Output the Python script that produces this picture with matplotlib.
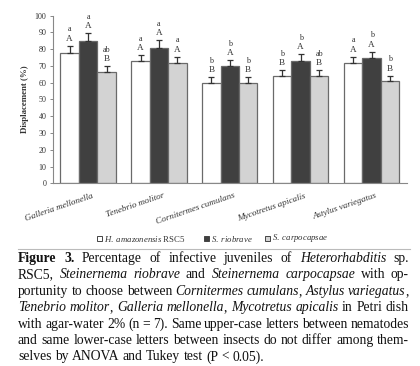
import matplotlib
matplotlib.use("Agg")
import matplotlib.pyplot as plt
import numpy as np
from matplotlib.patches import Rectangle
from matplotlib.lines import Line2D

plt.rcParams['font.family'] = ['Liberation Serif', 'DejaVu Serif']
plt.rcParams['mathtext.fontset'] = 'custom'
plt.rcParams['mathtext.it'] = 'Liberation Serif:italic'
plt.rcParams['mathtext.rm'] = 'Liberation Serif'

insects = ["Galleria mellonella", "Tenebrio molitor", "Cornitermes cumulans",
           "Mycotretus apicalis", "Astylus variegatus"]
series_names = [r"$\it{H.\ amazonensis}$ RSC5", r"$\it{S.\ riobrave}$", r"$\it{S.\ carpocapsae}$"]
h_amaz = [78, 73, 60, 63.8, 72]
s_rio = [85.2, 81, 70, 73, 74.6]
s_carp = [66.4, 72, 60, 63.8, 60.9]
h_err = [4, 3.5, 3.2, 3.6, 3.5]
r_err = [4.5, 4.3, 3.4, 4, 3.9]
c_err = [3.6, 3.5, 3.2, 3.6, 3.2]
h_upper = ["A", "A", "B", "B", "A"]
h_lower = ["a", "a", "b", "b", "a"]
r_upper = ["A", "A", "A", "A", "A"]
r_lower = ["a", "a", "b", "b", "b"]
c_upper = ["B", "A", "B", "B", "B"]
c_lower = ["ab", "a", "b", "ab", "b"]
yticks = list(range(0, 101, 10))

W, H = 420, 366
fig = plt.figure(figsize=(W / 100, H / 100), dpi=100)
ax = fig.add_axes([52.7 / W, 1 - 183.3 / H, (407 - 52.7) / W, (183.3 - 15.7) / H])

x = np.arange(len(insects))
bw = 0.26
faces = ["#ffffff", "#404040", "#d3d3d3"]
vals = [h_amaz, s_rio, s_carp]
errs = [h_err, r_err, c_err]
uppers = [h_upper, r_upper, c_upper]
lowers = [h_lower, r_lower, c_lower]
for i in range(3):
    xs = x + (i - 1) * bw
    ax.bar(xs, vals[i], bw, color=faces[i], edgecolor="#6a6a6a", linewidth=0.9,
           yerr=[np.zeros(len(x)), errs[i]], error_kw=dict(ecolor="#333333", elinewidth=0.9,
                                                           capsize=2.4, capthick=0.9), zorder=2)
    for j in range(len(x)):
        top = vals[i][j] + errs[i][j]
        ax.text(xs[j], top + 3, uppers[i][j], ha="center", va="baseline", fontsize=6.6, color="#333333")
        ax.text(xs[j], top + 8.6, lowers[i][j], ha="center", va="baseline", fontsize=5.9, color="#333333")

ax.set_xlim(-0.5, len(x) - 0.5)
ax.set_ylim(0, 100)
ax.set_yticks(yticks)
ax.set_yticklabels([str(t) for t in yticks], fontsize=5.8, color="#333333")
ax.tick_params(axis="y", length=2.5, width=0.7, color="#888888", pad=2)
ax.set_xticks(x + 0.05)
ax.set_xticklabels(insects, rotation=19, ha="right", rotation_mode="anchor",
                   fontsize=6.6, style="italic", color="#333333")
ax.tick_params(axis="x", length=0, pad=6)
for s in ["top", "right"]:
    ax.spines[s].set_visible(False)
for s in ["left", "bottom"]:
    ax.spines[s].set_color("#888888")
    ax.spines[s].set_linewidth(0.8)
ax.set_ylabel("Displacement (%)", fontsize=6.4, fontweight="bold", color="#333333", labelpad=4)

# Legend (manual placement)
leg_sq_x = [97, 204, 265]
leg_y = 238.5
sq = 4.5
for i in range(3):
    fig.add_artist(Rectangle((leg_sq_x[i] / W, 1 - (leg_y + sq / 2) / H), sq / W, sq / H,
                             transform=fig.transFigure, facecolor=faces[i],
                             edgecolor="#444444", linewidth=0.7))
    fig.text((leg_sq_x[i] + sq + 2.2) / W, 1 - leg_y / H, series_names[i], fontsize=6.3,
             va="center", ha="left", color="#333333")

fig.add_artist(Line2D([18 / W, 410 / W], [1 - 249 / H, 1 - 249 / H], color="#bbbbbb", linewidth=0.8))

# Caption (justified)
caption = [
    "#Figure# #3.# Percentage of infective juveniles of *Heterorhabditis* sp.",
    "RSC5, *Steinernema* *riobrave* and *Steinernema* *carpocapsae* with op-",
    "portunity to choose between *Cornitermes* *cumulans*, *Astylus* *variegatus*,",
    "*Tenebrio* *molitor*, *Galleria* *mellonella*, *Mycotretus* *apicalis* in Petri dish",
    "with agar-water 2% (n = 7). Same upper-case letters between nematodes",
    "and same lower-case letters between insects do not differ among them-",
    "selves by ANOVA and Tukey test (P < 0.05).",
]
cap_fs = 9.8
x0, x1 = 18.0, 409.0
base0, dy = 262.0, 16.4
renderer = fig.canvas.get_renderer()


def parse_word(word):
    segs = []
    cur = ""
    style = "normal"
    weight = "normal"
    for ch in word:
        if ch == "*":
            if cur:
                segs.append((cur, style, weight))
            cur = ""
            style = "italic" if style == "normal" else "normal"
        elif ch == "#":
            if cur:
                segs.append((cur, style, weight))
            cur = ""
            weight = "bold" if weight == "normal" else "normal"
        else:
            cur += ch
    if cur:
        segs.append((cur, style, weight))
    return segs


tmp1 = fig.text(0, 0, "a b", fontsize=cap_fs)
tmp2 = fig.text(0, 0, "ab", fontsize=cap_fs)
space_w = tmp1.get_window_extent(renderer).width - tmp2.get_window_extent(renderer).width
tmp1.remove()
tmp2.remove()

for li, line in enumerate(caption):
    words = line.split(" ")
    yb = 1 - (base0 + li * dy) / H
    word_arts = []
    for w in words:
        arts = []
        for txt, st, wt in parse_word(w):
            t = fig.text(0, yb, txt, fontsize=cap_fs, style=st, fontweight=wt,
                         va="baseline", ha="left", color="#111111")
            arts.append(t)
        word_arts.append(arts)
    widths = [[a.get_window_extent(renderer).width for a in arts] for arts in word_arts]
    total = sum(sum(ws) for ws in widths)
    if li == len(caption) - 1:
        gap = space_w
    else:
        gap = (x1 - x0 - total) / (len(words) - 1)
    pos = x0
    for arts, ws in zip(word_arts, widths):
        for a, wdt in zip(arts, ws):
            a.set_x(pos / W)
            pos += wdt
        pos += gap

fig.savefig("out.png", dpi=100)
